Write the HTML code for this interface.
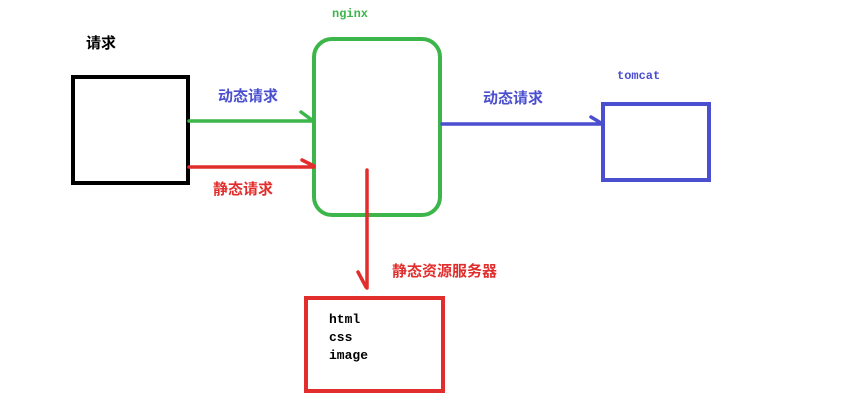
<!DOCTYPE html>
<html><head><meta charset="utf-8"><style>
body{margin:0;background:#fff;}
svg{display:block}
.c{font-family:"Liberation Sans","Noto Sans CJK SC",sans-serif;font-weight:bold;font-size:15px}
.m{font-family:"Liberation Mono",monospace;font-weight:bold;font-size:12px}
.s{font-family:"Liberation Mono",monospace;font-weight:bold;font-size:13px}
</style></head><body>
<svg width="846" height="416" viewBox="0 0 846 416">
<rect width="846" height="416" fill="#fff"/>
<rect x="73" y="77" width="115" height="106" fill="none" stroke="#000" stroke-width="4"/>
<rect x="314" y="39" width="126" height="176" rx="18" fill="none" stroke="#3cb64a" stroke-width="4"/>
<rect x="603" y="104" width="106" height="76" fill="none" stroke="#4a4fcf" stroke-width="4"/>
<rect x="306" y="298" width="137" height="93" fill="none" stroke="#e22d2d" stroke-width="4"/>
<g fill="none" stroke-width="3.5" stroke-linecap="round">
<path d="M189 121 L313 121 M301 112 L312 120" stroke="#3cb64a"/>
<path d="M189 167 L314 167 M302 160 L314 166" stroke="#e22d2d"/>
<path d="M442 124 L601 124 M591 117 L601 123" stroke="#4a4fcf"/>
<path d="M367 170 L367 288 M358 272 L366 287" stroke="#e22d2d"/>
</g>
<text x="86" y="48" class="c" fill="#000">请求</text>
<text x="332" y="17" class="m" fill="#3cb64a">nginx</text>
<text x="218" y="101" class="c" fill="#4a4fcf">动态请求</text>
<text x="213" y="194" class="c" fill="#e22d2d">静态请求</text>
<text x="483" y="103" class="c" fill="#4a4fcf">动态请求</text>
<text x="617" y="79" class="m" fill="#4a4fcf">tomcat</text>
<text x="392" y="276" class="c" fill="#e22d2d">静态资源服务器</text>
<text x="329" y="323" class="s" fill="#000">html</text>
<text x="329" y="341" class="s" fill="#000">css</text>
<text x="329" y="359" class="s" fill="#000">image</text>
</svg>
</body></html>
